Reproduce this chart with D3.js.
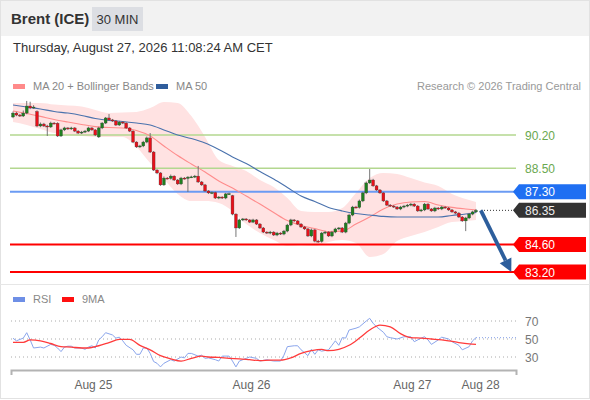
<!DOCTYPE html>
<html>
<head>
<meta charset="utf-8">
<script src="https://cdn.jsdelivr.net/npm/d3@7"></script>
<style>
  body { margin: 0; background: #fff; }
  svg { display: block; font-family: "Liberation Sans", Arial, sans-serif; }
</style>
</head>
<body>
<svg id="chart" width="590" height="400"></svg>
<script>
// 30 min candles, Brent (ICE)
var opens = [91.12,91.32,91.22,91.17,91.32,91.68,91.58,91.40,90.66,90.76,
  90.66,90.61,90.81,90.80,90.15,90.46,90.56,90.51,90.56,90.40,
  90.30,90.35,90.40,90.56,90.46,90.10,90.56,90.81,91.07,90.97,
  90.92,90.71,90.86,90.81,90.56,90.40,89.84,89.59,89.64,89.84,
  90.05,89.33,88.41,88.26,87.65,88.00,87.98,88.10,87.90,87.70,
  88.00,87.98,88.05,88.06,88.10,87.80,87.65,87.34,87.24,87.26,
  86.98,87.03,86.98,87.19,87.10,86.16,85.45,85.86,85.91,85.86,
  85.75,85.86,85.65,85.45,85.24,85.19,85.24,85.09,85.19,85.14,
  85.29,85.60,85.86,85.81,85.65,85.50,85.40,85.04,85.35,84.78,
  84.76,85.19,85.24,85.04,85.24,85.40,85.45,85.24,85.70,86.11,
  86.52,86.50,86.83,87.24,87.75,87.90,87.60,87.39,87.24,86.83,
  86.62,86.57,86.52,86.42,86.52,86.57,86.62,86.67,86.57,86.32,
  86.37,86.67,86.42,86.32,86.47,86.42,86.52,86.47,86.37,86.27,
  86.21,86.01,85.81,85.96,86.16,86.27];
var closes = [91.32,91.22,91.17,91.32,91.68,91.58,91.63,90.66,90.76,90.66,
  90.61,90.81,90.80,90.15,90.46,90.56,90.51,90.56,90.40,90.30,
  90.35,90.40,90.56,90.46,90.20,90.56,90.81,91.07,90.97,90.92,
  90.71,90.86,90.81,90.56,90.40,89.84,89.59,89.64,89.84,90.05,
  89.33,88.41,88.26,87.65,88.00,87.98,88.10,87.90,87.70,88.00,
  87.98,88.05,88.06,88.10,87.80,87.65,87.34,87.24,87.26,86.98,
  87.03,86.98,87.19,87.20,86.16,85.45,85.86,85.91,85.86,85.75,
  85.86,85.65,85.45,85.24,85.19,85.24,85.09,85.19,85.14,85.29,
  85.60,85.86,85.81,85.65,85.50,85.40,85.04,85.35,84.78,84.76,
  85.19,85.24,85.04,85.24,85.40,85.45,85.24,85.70,86.11,86.52,
  86.50,86.83,87.24,87.75,87.90,87.60,87.39,87.24,86.83,86.62,
  86.57,86.52,86.42,86.52,86.57,86.62,86.67,86.57,86.32,86.37,
  86.67,86.42,86.32,86.47,86.42,86.52,86.47,86.37,86.27,86.21,
  86.01,85.81,85.96,86.16,86.27,86.35];
var highs = [91.40,91.38,91.28,91.45,91.94,91.90,91.72,91.46,90.84,90.82,
  90.72,90.88,90.86,90.85,90.52,90.62,90.60,90.62,90.60,90.45,
  90.41,90.46,90.62,90.60,90.50,90.62,90.86,91.12,91.27,91.02,
  90.96,90.92,90.90,90.85,90.60,90.44,89.88,89.70,89.90,90.12,
  90.30,89.38,88.45,88.30,88.08,88.05,88.18,88.14,87.95,88.06,
  88.05,88.10,88.12,88.16,88.62,87.85,87.70,87.38,87.32,87.30,
  87.08,87.07,87.24,87.26,87.14,86.20,85.92,85.96,85.95,85.90,
  85.92,85.90,85.70,85.50,85.28,85.30,85.28,85.25,85.23,85.35,
  85.66,85.92,85.90,85.85,85.70,85.55,85.45,85.42,85.40,84.84,
  85.25,85.30,85.28,85.30,85.46,85.50,85.50,85.76,86.18,86.58,
  86.58,86.90,87.30,87.82,88.46,87.96,87.65,87.44,87.28,86.88,
  86.67,86.62,86.57,86.58,86.63,86.68,86.73,86.72,86.62,86.43,
  86.73,86.72,86.47,86.53,86.52,86.58,86.56,86.52,86.42,86.32,
  86.26,86.06,86.02,86.22,86.33,86.42];
var lows = [91.06,91.16,91.12,91.12,91.26,91.52,91.54,90.60,90.60,90.61,
  90.15,90.56,90.75,90.10,90.10,90.40,90.46,90.46,90.35,90.25,
  90.25,90.30,90.35,90.41,90.15,90.05,90.50,90.76,90.92,90.87,
  90.66,90.66,90.76,90.51,90.35,89.79,89.54,89.54,89.58,89.78,
  89.28,88.36,88.20,87.60,87.60,87.93,87.92,87.85,87.65,87.64,
  87.92,87.29,88.00,88.00,87.75,87.60,87.29,87.19,87.18,86.93,
  86.92,86.93,86.92,87.14,86.10,84.99,85.40,85.80,85.81,85.70,
  85.70,85.60,85.40,85.19,85.14,85.13,85.04,85.03,85.09,85.08,
  85.23,85.54,85.76,85.60,85.45,85.35,84.99,84.98,84.72,84.70,
  84.70,85.13,84.99,84.98,85.18,85.34,85.19,85.18,85.64,86.05,
  86.45,86.44,86.77,87.18,87.70,87.55,87.34,87.19,86.78,86.57,
  86.52,86.47,86.37,86.36,86.46,86.51,86.56,86.52,86.27,86.26,
  86.31,86.37,86.27,86.26,86.37,86.36,86.42,86.32,86.22,86.16,
  85.96,85.76,85.29,85.90,86.10,86.21];

// moving averages and Bollinger bands, read every 4 candles
var bandIdx = [0,4,8,12,16,20,24,28,32,36,40,44,48,52,56,60,64,68,72,76,80,84,88,92,96,100,104,108,112,116,120,124,128,132,135];
var ma50 = [91.73,91.63,91.53,91.40,91.32,91.20,91.04,90.94,90.89,90.81,90.71,90.46,90.20,90.02,89.79,89.46,89.08,88.74,88.33,87.95,
  87.52,87.08,86.80,86.50,86.32,86.19,86.11,86.04,86.01,86.01,86.01,86.01,86.09,86.16,86.24];
var ma20 = [91.43,91.30,91.15,90.99,90.86,90.74,90.63,90.58,90.56,90.43,90.15,89.64,89.15,88.72,88.31,87.85,87.49,87.08,86.67,86.24,
  85.83,85.58,85.42,85.27,85.29,85.65,86.01,86.42,86.67,86.78,86.80,86.62,86.50,86.42,86.37];
var bbUpper = [91.84,91.84,91.84,91.76,91.71,91.66,91.48,91.32,91.35,91.38,91.58,91.89,91.84,91.17,90.10,88.92,88.62,88.36,87.90,87.54,
  86.98,86.32,86.27,86.27,86.47,87.24,88.00,88.26,88.21,88.00,87.77,87.59,87.19,86.93,86.78];
var bbLower = [90.86,90.71,90.51,90.30,90.20,90.15,90.10,90.10,90.10,89.59,88.77,87.95,87.19,86.83,86.83,86.73,86.32,85.65,85.19,84.83,
  84.53,84.58,84.53,84.73,84.83,84.68,83.97,84.12,84.78,85.04,85.24,85.50,85.75,85.81,85.86];

// key levels
var resistances = [90.20, 88.50];
var pivot = 87.30;
var lastPrice = 86.35;
var supports = [84.60, 83.20];

// RSI (14) and its 9 period average
var rsiIdx = [0,1,3,4,5,6,8,9,11,12,13,14,15,16,17,18,20,21,22,23,24,25,26,27,29,30,31,32,33,35,36,37,38,39,40,41,42,43,44,46,47,49,50,51,52,54,55,56,57,59,60,61,63,64,65,66,68,69,71,72,74,76,78,79,80,82,83,84,86,87,88,89,90,92,93,94,95,96,97,98,100,101,103,104,105,106,108,109,110,112,114,116,117,119,120,121,122,124,125,127,128,130,131,133,134,135];
var rsi = [50.8,48,51,57,49,40,41,40,44,43,40,36,41,42,42,40,40,38.5,41,42.5,40,49,52.5,57,54.5,51,52,48,43,38,33,33,40,40,34,25,23,19,23,27,25.5,30,29,34,34,31,32,28.5,29,27,25.5,31,31,25.5,19,25.5,28.5,30,28.5,25.5,27,25.5,25.5,32,41.5,42.5,42.5,38,31.5,38.5,33,38,36.5,38,43,48,43,51.5,51,60,62,63.5,70,73,67.5,63.5,57.5,52.5,51.5,50,52.5,52.5,47,51,52.5,49,44,49,52,50,47,43,38,41.5,48,51.5];
var ma9Idx = [0,3,5,8,11,14,17,20,22,25,28,31,34,37,40,43,46,49,52,55,57,60,63,66,69,72,75,78,81,84,87,90,92,95,98,101,104,107,110,113,116,119,122,125,127,130,133,135];
var ma9 = [46.3,46.3,49,48,45,41.5,41,40,40,42.5,46,49.5,49.5,43,38,31.5,28,25.5,28.5,31,30,29.5,28.5,28,27,26,26.5,26.5,29,34,37,38.5,37,38.5,43,51,60,65.5,63.5,56,51.5,51,50,49,48,46,44.5,44];
var rsiLevels = [70, 50, 30];

// x axis labels (positions in candle units)
var dayIdx = [23.3, 69.4, 116.3, 136.2];
var dayLabels = ["Aug 25", "Aug 26", "Aug 27", "Aug 28"];

var svg = d3.select("#chart");
var x = d3.scaleLinear().domain([0, 135]).range([13, 476]);
var y = d3.scaleLinear().domain([83.20, 90.20]).range([272, 135]);
var yRsi = d3.scaleLinear().domain([30, 70]).range([357, 321]);
var xLeft = 11, xRight = 516;

// frame + header
svg.append("rect").attr("x", 0).attr("y", 0).attr("width", 590).attr("height", 36).attr("fill", "#f2f2f2");
svg.append("rect").attr("x", 0.5).attr("y", 0.5).attr("width", 589).attr("height", 398)
  .attr("fill", "none").attr("stroke", "#e2e2e2");
svg.append("line").attr("x1", 0).attr("x2", 590).attr("y1", 284.5).attr("y2", 284.5).attr("stroke", "#e6e6e6");

svg.append("text").attr("x", 11).attr("y", 24).attr("font-size", 15).attr("font-weight", "bold")
  .attr("fill", "#333").text("Brent (ICE)");
svg.append("rect").attr("x", 92).attr("y", 7).attr("width", 51).attr("height", 24).attr("fill", "#dcdee3");
svg.append("text").attr("x", 117.5).attr("y", 24).attr("font-size", 13).attr("text-anchor", "middle")
  .attr("fill", "#333").text("30 MIN");
svg.append("text").attr("x", 13).attr("y", 52).attr("font-size", 13).attr("fill", "#333")
  .text("Thursday, August 27, 2026 11:08:24 AM CET");

// legends
svg.append("rect").attr("x", 13).attr("y", 84).attr("width", 12).attr("height", 5).attr("fill", "#ff8a8a");
svg.append("text").attr("x", 33).attr("y", 90).attr("font-size", 11).attr("fill", "#888").text("MA 20 + Bollinger Bands");
svg.append("rect").attr("x", 156).attr("y", 84).attr("width", 12).attr("height", 5).attr("fill", "#2f5d9c");
svg.append("text").attr("x", 176).attr("y", 90).attr("font-size", 11).attr("fill", "#888").text("MA 50");
svg.append("text").attr("x", 581).attr("y", 90).attr("font-size", 11).attr("fill", "#999")
  .attr("text-anchor", "end").text("Research \u00a9 2026 Trading Central");

// bollinger band
var band = d3.area()
  .x(function(d, i){ return x(bandIdx[i]); })
  .y0(function(d, i){ return y(bbLower[i]); })
  .y1(function(d, i){ return y(bbUpper[i]); })
  .curve(d3.curveMonotoneX);
svg.append("path").datum(bandIdx).attr("d", band).attr("fill", "#ffe2e2");

// level lines
resistances.forEach(function(v){
  svg.append("line").attr("x1", 10).attr("x2", xRight).attr("y1", y(v)).attr("y2", y(v))
    .attr("stroke", "#b3d78f").attr("stroke-width", 1.3);
  svg.append("text").attr("x", 525).attr("y", y(v) + 4.5).attr("font-size", 12).attr("fill", "#6aa84f")
    .text(v.toFixed(2));
});
svg.append("line").attr("x1", 10).attr("x2", xRight).attr("y1", y(pivot)).attr("y2", y(pivot))
  .attr("stroke", "#6b9bf3").attr("stroke-width", 2);
supports.forEach(function(v){
  svg.append("line").attr("x1", 10).attr("x2", xRight).attr("y1", y(v)).attr("y2", y(v))
    .attr("stroke", "#ff0000").attr("stroke-width", 2);
});

// moving averages
function maLine(vals){
  return d3.line().x(function(d, i){ return x(bandIdx[i]); })
    .y(function(d){ return y(d); }).curve(d3.curveMonotoneX)(vals);
}
svg.append("path").attr("d", maLine(ma20)).attr("fill", "none").attr("stroke", "#ff8c8c").attr("stroke-width", 1.1);
svg.append("path").attr("d", maLine(ma50)).attr("fill", "none").attr("stroke", "#4a72ad").attr("stroke-width", 1.1);

// candles
var bw = 2.9;
var candles = svg.append("g").selectAll("g").data(closes).enter().append("g");
candles.append("line")
  .attr("x1", function(d, i){ return x(i); }).attr("x2", function(d, i){ return x(i); })
  .attr("y1", function(d, i){ return y(highs[i]); }).attr("y2", function(d, i){ return y(lows[i]); })
  .attr("stroke", "#666").attr("stroke-width", 0.9);
candles.append("rect")
  .attr("x", function(d, i){ return x(i) - bw / 2; })
  .attr("y", function(d, i){ return y(Math.max(opens[i], d)); })
  .attr("width", bw)
  .attr("height", function(d, i){ return Math.max(1, Math.abs(y(opens[i]) - y(d))); })
  .attr("fill", function(d, i){ return d >= opens[i] ? "#1f7f1f" : "#e8101a"; })
  .attr("stroke", "#3a3a3a").attr("stroke-width", 0.3);

// last price dotted line
svg.append("line").attr("x1", x(135) + 5).attr("x2", xRight).attr("y1", y(lastPrice)).attr("y2", y(lastPrice))
  .attr("stroke", "#333").attr("stroke-width", 1).attr("stroke-dasharray", "1,2");

// price tags
function tag(v, color, txtColor){
  var yy = y(v);
  svg.append("path")
    .attr("d", "M" + 513 + "," + yy + "L519," + (yy - 7.5) + "H586V" + (yy + 7.5) + "H519Z")
    .attr("fill", color);
  svg.append("text").attr("x", 525).attr("y", yy + 4.5).attr("font-size", 12).attr("fill", txtColor).text(v.toFixed(2));
}
tag(pivot, "#1f6ff2", "#fff");
tag(lastPrice, "#333333", "#eee");
supports.forEach(function(v){ tag(v, "#ff0000", "#fff"); });

// forecast arrow
var ax0 = x(136.4), ay0 = y(lastPrice), ax1 = x(145.3), ay1 = y(supports[1]);
var dx = ax1 - ax0, dy = ay1 - ay0, len = Math.sqrt(dx * dx + dy * dy);
var ux = dx / len, uy = dy / len, hl = 13, hw = 6.5;
var bx = ax1 - ux * hl, by = ay1 - uy * hl;
svg.append("line").attr("x1", ax0).attr("y1", ay0).attr("x2", bx).attr("y2", by)
  .attr("stroke", "#2d5e9c").attr("stroke-width", 3.8);
svg.append("path")
  .attr("d", "M" + ax1 + "," + ay1 + "L" + (bx - uy * hw) + "," + (by + ux * hw) + "L" + (bx + uy * hw) + "," + (by - ux * hw) + "Z")
  .attr("fill", "#2d5e9c");

// RSI panel
svg.append("rect").attr("x", 13).attr("y", 297).attr("width", 12).attr("height", 5).attr("fill", "#6e8fe6");
svg.append("text").attr("x", 33).attr("y", 303).attr("font-size", 11).attr("fill", "#888").text("RSI");
svg.append("rect").attr("x", 62).attr("y", 297).attr("width", 12).attr("height", 5).attr("fill", "#ff1010");
svg.append("text").attr("x", 82).attr("y", 303).attr("font-size", 11).attr("fill", "#888").text("9MA");

rsiLevels.forEach(function(v){
  svg.append("line").attr("x1", xLeft).attr("x2", xRight).attr("y1", yRsi(v)).attr("y2", yRsi(v))
    .attr("stroke", "#aaa").attr("stroke-width", 1).attr("stroke-dasharray", "1,3");
  svg.append("text").attr("x", 525).attr("y", yRsi(v) + 4.5).attr("font-size", 12).attr("fill", "#777").text(v);
});

var rsiLine = d3.line().x(function(d, i){ return x(rsiIdx[i]); }).y(function(d){ return yRsi(d); });
svg.append("path").attr("d", rsiLine(rsi)).attr("fill", "none").attr("stroke", "#8aa5ec").attr("stroke-width", 1);
svg.append("line").attr("x1", x(135)).attr("x2", xRight).attr("y1", yRsi(rsi[rsi.length - 1])).attr("y2", yRsi(rsi[rsi.length - 1]))
  .attr("stroke", "#8aa5ec").attr("stroke-width", 1).attr("stroke-dasharray", "1,2");
var ma9Line = d3.line().x(function(d, i){ return x(ma9Idx[i]); }).y(function(d){ return yRsi(d); }).curve(d3.curveMonotoneX);
svg.append("path").attr("d", ma9Line(ma9)).attr("fill", "none").attr("stroke", "#ff3b3b").attr("stroke-width", 1.3);

// time axis
var xAxisScale = x.copy().domain([x.invert(xLeft), x.invert(xRight)]).range([xLeft, xRight]);
var axis = svg.append("g").attr("transform", "translate(0,370)")
  .call(d3.axisBottom(xAxisScale).tickValues(dayIdx).tickSizeInner(0).tickSizeOuter(5).tickPadding(10)
    .tickFormat(function(d, i){ return dayLabels[i]; }));
axis.select(".domain").attr("stroke", "#b3b3b3").attr("stroke-width", 2);
axis.selectAll("text").attr("font-size", 12).attr("fill", "#666")
  .attr("font-family", "'Liberation Sans', Arial, sans-serif");
</script>
</body>
</html>
